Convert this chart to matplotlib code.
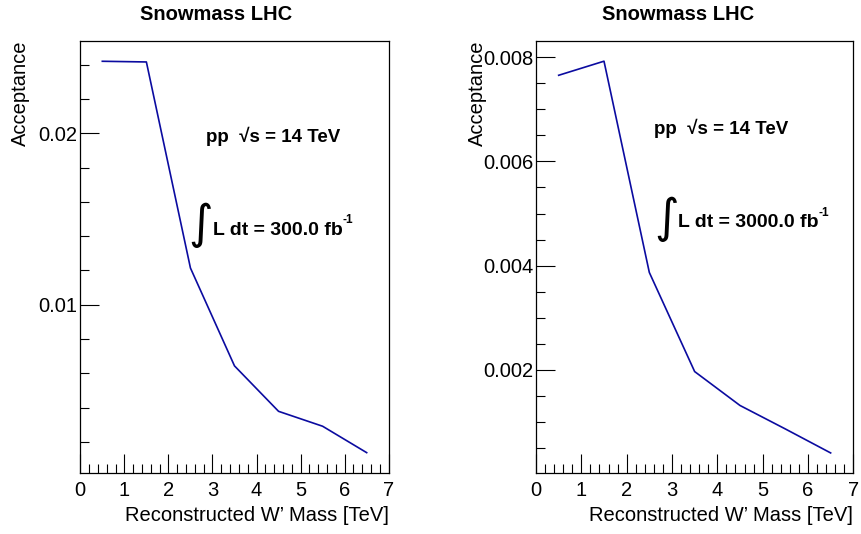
import numpy as np
import matplotlib
matplotlib.use('Agg')
import matplotlib.pyplot as plt
from matplotlib.ticker import MultipleLocator, FuncFormatter

plt.rcParams['font.family'] = ['Liberation Sans', 'DejaVu Sans']

# W' mass points [TeV]
mass = [0.5, 1.5, 2.5, 3.5, 4.5, 5.5, 6.5]
# acceptance, 300 fb-1
acc_300 = [0.0242, 0.02416, 0.01214, 0.00643, 0.00378, 0.00291, 0.00137]
# acceptance, 3000 fb-1
acc_3000 = [0.00765, 0.00792, 0.00387, 0.00197, 0.00132, 0.00087, 0.00041]

lumis = ['300.0', '3000.0']

fig = plt.figure(figsize=(8.62, 5.34), dpi=100)

W, H = 862.0, 534.0
def box(l, r, t, b):
    return [l / W, 1 - b / H, (r - l) / W, (b - t) / H]

ax1 = fig.add_axes(box(80.3, 388.7, 40.7, 472.7))
ax2 = fig.add_axes(box(536.0, 853.3, 40.7, 472.7))

line_col = '#0b0ba0'
fmt = FuncFormatter(lambda v, p: '%g' % v)
fs = 14.5

settings = [
    (ax1, acc_300, (0.0002, 0.0254), 0.01, 0.002, -0.162, (0.4076, 0.778), (0.389, 0.573), (0.4293, 0.5618), lumis[0]),
    (ax2, acc_3000, (0.000031, 0.008313), 0.002, 0.0005, -0.154, (0.371, 0.797), (0.4088, 0.588), (0.4475, 0.5787), lumis[1]),
]

for ax, acc, ylim, ymaj, ymin, ylab_x, pp_pos, int_pos, lum_pos, lumi in settings:
    ax.plot(mass, acc, color=line_col, lw=1.2)
    ax.set_xlim(0, 7)
    ax.set_ylim(*ylim)
    ax.xaxis.set_major_locator(MultipleLocator(1))
    ax.xaxis.set_minor_locator(MultipleLocator(0.2))
    ax.yaxis.set_major_locator(MultipleLocator(ymaj))
    ax.yaxis.set_minor_locator(MultipleLocator(ymin))
    ax.yaxis.set_major_formatter(fmt)
    ax.tick_params(which='both', direction='in', top=False, right=False, width=0.8, colors='black')
    ax.tick_params(which='major', length=13.5, labelsize=fs)
    ax.tick_params(which='minor', length=6.5)
    ax.tick_params(axis='x', which='major', pad=6)
    ax.tick_params(axis='y', which='major', pad=2)
    for s in ax.spines.values():
        s.set_linewidth(0.9)

    ax.set_xlabel("Reconstructed W\u2019 Mass [TeV]", fontsize=fs, loc='right')
    ax.xaxis.set_label_coords(1.0, -0.078)
    ax.xaxis.label.set_va('top')
    ax.set_ylabel('Acceptance', fontsize=fs, loc='top')
    ax.yaxis.set_label_coords(ylab_x, 1.0)

    ax.text(pp_pos[0], pp_pos[1], 'pp  \u221as = 14 TeV', transform=ax.transAxes,
            fontsize=13.5, fontweight='bold', ha='left', va='center')
    ax.text(int_pos[0], int_pos[1], r'$\int$', transform=ax.transAxes,
            fontsize=24, ha='center', va='center')
    t = ax.text(lum_pos[0], lum_pos[1], 'L dt = %s fb' % lumi, transform=ax.transAxes,
                fontsize=14, fontweight='bold', ha='left', va='center')
    ax.annotate('-1', xy=(1.0, 0.72), xycoords=t, fontsize=8.5, fontweight='bold',
                ha='left', va='bottom')

fig.text(216 / W, 1 - 15 / H, 'Snowmass LHC', fontsize=fs, fontweight='bold', ha='center', va='center')
fig.text(678 / W, 1 - 15 / H, 'Snowmass LHC', fontsize=fs, fontweight='bold', ha='center', va='center')

plt.savefig('out.png', dpi=100)
